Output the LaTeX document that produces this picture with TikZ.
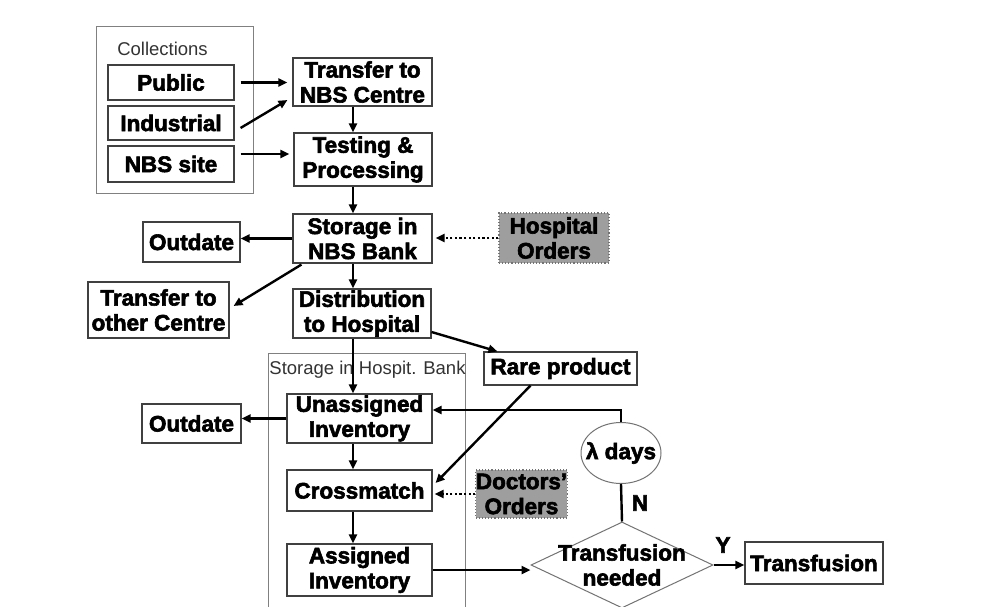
\documentclass[tikz,border=0pt]{standalone}
\usepackage{fontspec}
\setmainfont{Liberation Sans}[BoldFeatures={FakeBold=2.6}]
\usetikzlibrary{shapes.geometric,arrows.meta}

\newcommand\flowbold{\fontsize{22.5}{25}\selectfont\bfseries}
\newcommand\flowplain{\fontsize{18.5}{21}\selectfont}

\begin{document}
\begin{tikzpicture}[x=1pt,y=-1pt,
  box/.style={draw=black!75, line width=1.1pt, fill=white, inner sep=0pt,
              align=center, font=\flowbold, text=black},
  orders/.style={box, draw=black!55, dotted, fill=black!38},
  group/.style={draw=black!50, line width=0.9pt, inner sep=0pt},
  grouplabel/.style={font=\flowplain, text=black!80, inner sep=0pt},
  txt/.style={font=\flowbold, align=center, inner sep=0pt},
  decision/.style={draw=black!55, line width=1pt, inner sep=0pt},
  arr/.style={line width=2.4pt, draw=black, -{Triangle[length=9pt,width=8pt]}},
  dotarr/.style={arr, dash pattern=on 2.2pt off 2.4pt},
  link/.style={line width=2.4pt, draw=black}]

\useasboundingbox (0,0) rectangle (987,607);
\fill[white] (0,0) rectangle (987,607);

\coordinate (spine) at (353,0);

% collection sources
\node[group, minimum width=157pt, minimum height=167pt] (coll) at (174.5,109.5) {};
\node[grouplabel] (colllab) at (162.5,49) {Collections};
\node[box, minimum width=126pt, minimum height=35pt] (pub) at (171,82.5) {Public};
\node[box, minimum width=126pt, minimum height=34pt] (ind) at (171,123) {Industrial};
\node[box, minimum width=126pt, minimum height=36pt] (site) at (171,164) {NBS site};

% blood service chain
\node[box, minimum width=139pt, minimum height=48pt] (tnbs) at (362.5,82) {Transfer to\\NBS Centre};
\node[box, minimum width=138pt, minimum height=53pt] (test) at (363,159.5) {Testing \&\\Processing};
\node[box, minimum width=139pt, minimum height=49pt] (snbs) at (362.5,238.5) {Storage in\\NBS Bank};
\node[box, minimum width=97pt, minimum height=40pt] (out1) at (191.5,242) {Outdate};
\node[orders, minimum width=110pt, minimum height=50pt] (hosp) at (554,238) {Hospital\\Orders};
\node[box, minimum width=141pt, minimum height=56pt] (toc) at (158.5,310) {Transfer to\\other Centre};
\node[box, minimum width=138pt, minimum height=49pt] (dist) at (362,313.5) {Distribution\\to Hospital};
\node[box, minimum width=153pt, minimum height=33pt] (rare) at (560.5,368.5) {Rare product};

% hospital bank
\node[group, minimum width=197pt, minimum height=264pt] (hbank) at (366.5,485) {};
\node[grouplabel] (hbanklab) at (367.5,370) {Storage in Hospit. Bank};
\node[box, minimum width=145pt, minimum height=49pt] (unas) at (359.5,418.5) {Unassigned\\Inventory};
\node[box, minimum width=99pt, minimum height=39pt] (out2) at (191.5,423.5) {Outdate};
\node[box, minimum width=145pt, minimum height=41pt] (cross) at (359.5,490.5) {Crossmatch};
\node[orders, minimum width=89pt, minimum height=48pt] (doc) at (521.5,494) {Doctors’\\Orders};
\node[box, minimum width=145pt, minimum height=52pt] (assg) at (359.5,570) {Assigned\\Inventory};

% decision loop
\node[decision, diamond, minimum width=182pt, minimum height=86pt] (dia) at (622,565) {};
\node[txt] (dialab) at (dia.center) {Transfusion\\needed};
\node[decision, ellipse, minimum width=80pt, minimum height=61pt] (lam) at (621,453) {};
\node[txt] (lamlab) at (lam.center) {λ days};
\node[box, minimum width=138pt, minimum height=42pt] (trans) at (814,563) {Transfusion};

% connectors
\draw[arr, shorten <=6pt, shorten >=5pt] (pub.east) -- (tnbs.west |- pub.east);
\draw[arr] ([shift={(6,5)}]ind.east) -- ([shift={(-5,18)}]tnbs.west);
\draw[arr] ([shift={(6,-10)}]site.east) -- ([shift={(-4,-5.5)}]test.west);
\draw[arr] (tnbs.south -| spine) -- (test.north -| spine);
\draw[arr] (test.south -| spine) -- (snbs.north -| spine);
\draw[arr] (snbs.west) -- (out1.east |- snbs.west);
\draw[dotarr] (hosp.west) -- ([xshift=3pt]snbs.east |- hosp.west);
\draw[arr] ([shift={(9,1)}]snbs.south west) -- ([shift={(4,-4)}]toc.east);
\draw[arr] (snbs.south -| spine) -- (dist.north -| spine);
\draw[arr] ([shift={(0,18.5)}]dist.east) -- ([shift={(14,0)}]rare.north west);
\draw[arr] (dist.south -| spine) -- (unas.north -| spine);
\draw[arr] (unas.west) -- (out2.east |- unas.west);
\draw[arr] (unas.south -| spine) -- (cross.north -| spine);
\draw[arr] ([shift={(-30,0)}]rare.south) -- ([shift={(3,-7.5)}]cross.east);
\draw[dotarr] (doc.west) -- ([xshift=2pt]cross.east |- doc.west);
\draw[arr] (cross.south -| spine) -- (assg.north -| spine);
\draw[arr] (assg.east) -- (assg.east -| dia.west);
\draw[link] (dia.north) -- (lam.south);
\draw[arr] (lam.north) |- ([shift={(0,-8.5)}]unas.east);
\draw[arr] (dia.east) -- (trans.west |- dia.east);
\node[txt] (nlab) at (640,503) {N};
\node[txt] (ylab) at (723,545) {Y};

\end{tikzpicture}
\end{document}
